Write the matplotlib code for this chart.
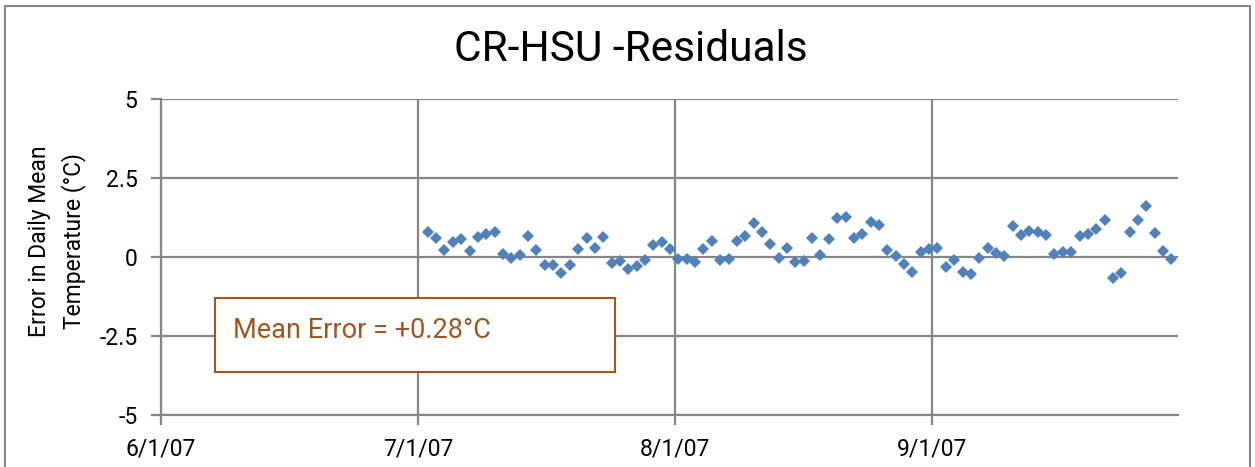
import datetime as dt
import numpy as np
import matplotlib
matplotlib.use('Agg')
import matplotlib.pyplot as plt
import matplotlib.dates as mdates
from matplotlib.patches import Rectangle

# ================================================================
# Data: daily residuals, 7/2/07 .. 9/29/07
# ================================================================

START_DATE = dt.date(2007, 7, 2)

resid_jul = [0.80, 0.61, 0.21, 0.49, 0.58, 0.19, 0.63, 0.72, 0.79, 0.09,
             -0.04, 0.05, 0.67, 0.22, -0.25, -0.25, -0.52, -0.25, 0.25, 0.59,
             0.28, 0.64, -0.19, -0.14, -0.39, -0.28, -0.10, 0.37, 0.46, 0.24]
resid_aug = [-0.05, -0.05, -0.15, 0.24, 0.51, -0.10, -0.07, 0.51, 0.65, 1.07,
             0.79, 0.40, -0.02, 0.27, -0.16, -0.13, 0.61, 0.05, 0.56, 1.25,
             1.28, 0.61, 0.72, 1.12, 1.01, 0.21, 0.03, -0.23, -0.49, 0.16,
             0.24]
resid_sep = [0.30, -0.32, -0.10, -0.49, -0.55, -0.04, 0.30, 0.12, 0.03, 0.98,
             0.69, 0.82, 0.79, 0.69, 0.09, 0.16, 0.16, 0.66, 0.74, 0.88,
             1.16, -0.65, -0.52, 0.80, 1.16, 1.61, 0.77, 0.19, -0.05]

residuals = resid_jul + resid_aug + resid_sep
dates = [START_DATE + dt.timedelta(days=i) for i in range(len(residuals))]

x_tick_labels = ['6/1/07', '7/1/07', '8/1/07', '9/1/07']
y_ticks = [-5, -2.5, 0, 2.5, 5]
y_tick_labels = ['-5', '-2.5', '0', '2.5', '5']

TITLE = 'CR-HSU -Residuals'
YLABEL = 'Error in Daily Mean\nTemperature (\u00b0C)'
NOTE = 'Mean Error = +0.28\u00b0C'

# ================================================================
# Style
# ================================================================

plt.rcParams['font.family'] = ['Roboto', 'DejaVu Sans']

GRID = '#868686'
BLUE = '#4F81BD'
BROWN = '#A0561E'

fig = plt.figure(figsize=(12.55, 4.67), dpi=100)
ax = fig.add_axes([0.1283, 0.1113, 0.8103, 0.6767])

ax.plot(mdates.date2num(dates), residuals, linestyle='none', marker='D',
        markersize=6.6, color=BLUE, markeredgewidth=0, zorder=3)

# Excel picked an odd major unit (~30.76 days) starting just before 6/1
x0 = mdates.date2num(dt.date(2007, 6, 1)) - 0.92
unit = 30.76
ax.set_xlim(x0, x0 + 121.7)
ax.set_xticks(x0 + np.arange(len(x_tick_labels)) * unit)
ax.set_xticklabels(x_tick_labels)

ax.set_ylim(-5, 5)
ax.set_yticks(y_ticks)
ax.set_yticklabels(y_tick_labels)

ax.grid(True, color=GRID, linewidth=1.6, zorder=0)
ax.set_axisbelow(True)
for side in ['top', 'right']:
    ax.spines[side].set_visible(False)
for side in ['left', 'bottom']:
    ax.spines[side].set_color(GRID)
    ax.spines[side].set_linewidth(1.6)

ax.tick_params(axis='both', colors=GRID, labelcolor='black', labelsize=16.5,
               length=7, width=1.6, direction='out')
ax.tick_params(axis='y', pad=10)
ax.tick_params(axis='x', pad=9)

ax.set_ylabel(YLABEL, fontsize=16.5, linespacing=1.5)
ax.yaxis.set_label_coords(-0.074, 0.55)

fig.text(0.503, 0.893, TITLE, ha='center', va='center', fontsize=30.5)

# Mean error annotation box
ax.add_patch(Rectangle((0.053, 0.136), 0.393, 0.234, transform=ax.transAxes,
                       facecolor='white', edgecolor=BROWN, linewidth=1.5,
                       zorder=4))
ax.text(0.071, 0.268, NOTE, transform=ax.transAxes, ha='left', va='center',
        fontsize=19.5, color=BROWN, zorder=5)

# Chart-area border (bottom edge falls outside the picture)
fig.patches.append(Rectangle((0.004, -0.05), 0.992, 1.037,
                             transform=fig.transFigure, fill=False,
                             edgecolor=GRID, linewidth=1.5))

fig.savefig('out.png', dpi=100)
